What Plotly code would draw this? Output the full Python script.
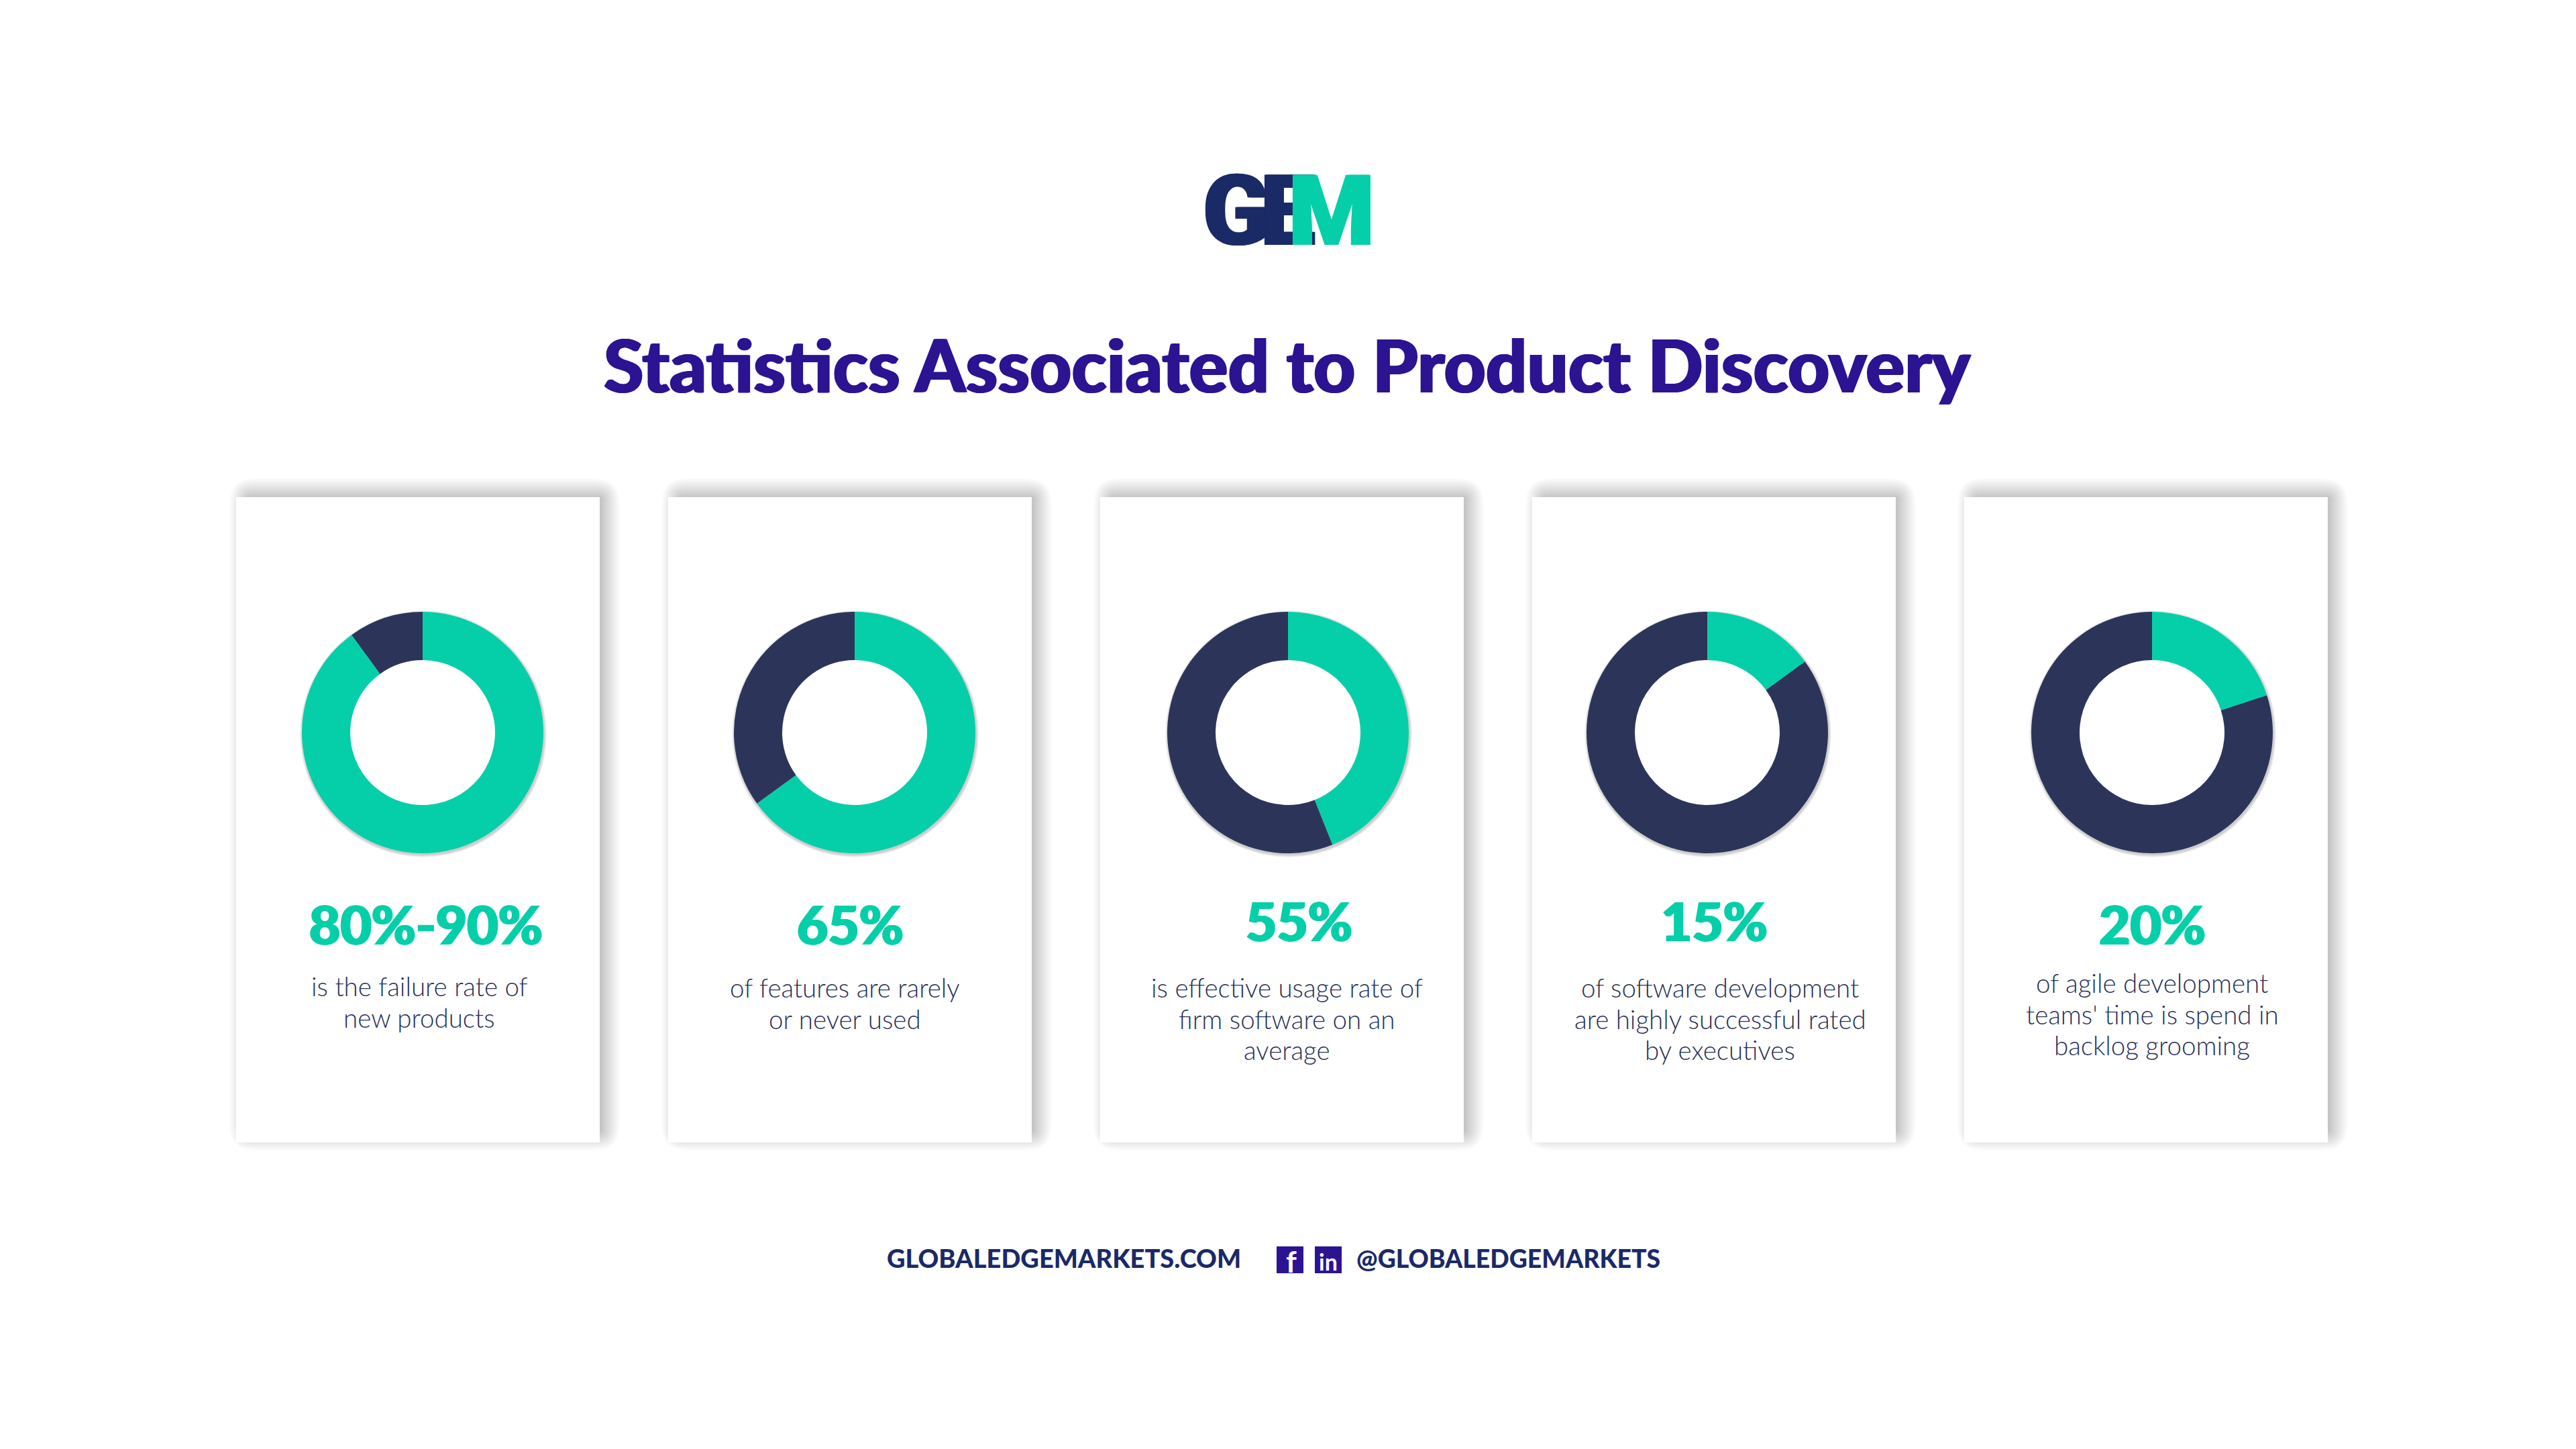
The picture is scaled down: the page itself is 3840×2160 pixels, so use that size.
import plotly.graph_objects as go

W, H = 3840, 2160
TEAL, NAVY, INK, PURPLE, LOGO = "#05cfa9", "#2c3559", "#262f55", "#2b1392", "#1a2a66"
FONT = "Lato"

# data
teal_values = [90, 65, 44, 15, 20]
navy_values = [10, 35, 56, 85, 80]
headlines = ["80%-90%", "65%", "55%", "15%", "20%"]
descriptions = [
    ["is the failure rate of", "new products"],
    ["of features are rarely", "or never used"],
    ["is effective usage rate of", "firm software on an", "average"],
    ["of software development", "are highly successful rated", "by executives"],
    ["of agile development", "teams' time is spend in", "backlog grooming"],
]
title = "Statistics Associated to Product Discovery"
footer_site = "GLOBALEDGEMARKETS.COM"
footer_handle = "@GLOBALEDGEMARKETS"

# layout (pixels)
card_left = [352, 996, 1640, 2284, 2928]
card_w, card_top, card_bottom = 542, 741, 1703
donut_cx = [630, 1274, 1920, 2545, 3208]
donut_cy, donut_r = 1092, 180
head_xy = [(635, 1377), (1267, 1377), (1936, 1372), (2555, 1372), (3208, 1377)]
desc_x = [625, 1259, 1918, 2564, 3208]
desc_y0 = [1470, 1472, 1472, 1472, 1465]
desc_step = 46.5

px = lambda x: x / W
py = lambda y: 1 - y / H
shapes = []


def rect(x0, y0, x1, y1, **kw):
    shapes.append(dict(type="rect", xref="paper", yref="paper", x0=px(x0), x1=px(x1),
                       y0=py(y1), y1=py(y0), layer="below", line_width=0, **kw))


def round_rect(x0, y0, x1, y1, rad, **kw):
    a, b, c, d = px(x0), px(x1), py(y0), py(y1)
    rx, ry = px(rad), rad / H
    path = (f"M{a + rx},{c} L{b - rx},{c} Q{b},{c} {b},{c - ry} L{b},{d + ry} Q{b},{d} {b - rx},{d} "
            f"L{a + rx},{d} Q{a},{d} {a},{d + ry} L{a},{c - ry} Q{a},{c} {a + rx},{c} Z")
    shapes.append(dict(type="path", xref="paper", yref="paper", path=path, layer="below",
                       line_width=0, **kw))


for left in card_left:
    for r in range(-10, 21):
        round_rect(left + 10 - r, card_top - 8 - r, left + card_w + 10 + r, card_bottom - 8 + r,
                   (r + 10) * 1.2, fillcolor="#000000", opacity=0.0095)
    rect(left, card_top, left + card_w, card_bottom, fillcolor="#ffffff")

for cx in donut_cx:
    for r in range(1, 5):
        shapes.append(dict(type="circle", xref="paper", yref="paper", layer="below", line_width=0,
                           x0=px(cx + 1 - donut_r - r), x1=px(cx + 1 + donut_r + r),
                           y0=py(donut_cy + 2 + donut_r + r), y1=py(donut_cy + 2 - donut_r - r),
                           fillcolor="#000000", opacity=0.05))
    hole = donut_r * 0.8
    shapes.append(dict(type="circle", xref="paper", yref="paper", layer="below", line_width=0,
                       x0=px(cx - hole), x1=px(cx + hole), y0=py(donut_cy + hole),
                       y1=py(donut_cy - hole), fillcolor="#ffffff"))

rect(1903, 1858, 1943, 1898, fillcolor=PURPLE)
rect(1960, 1858, 2000, 1898, fillcolor=PURPLE)

fig = go.Figure()
for teal, navy, cx in zip(teal_values, navy_values, donut_cx):
    fig.add_trace(go.Pie(
        values=[teal, navy], sort=False, direction="clockwise", rotation=0, hole=0.6,
        marker=dict(colors=[TEAL, NAVY], line_width=0), textinfo="none", hoverinfo="skip",
        showlegend=False,
        domain=dict(x=[px(cx - donut_r), px(cx + donut_r)],
                    y=[py(donut_cy + donut_r), py(donut_cy - donut_r)]),
    ))

anns = []


def text(s, x, y, size, color, weight=400, family=FONT, shadow=None):
    font = dict(family=family, size=size, color=color, weight=weight)
    if shadow:
        font["shadow"] = shadow
    anns.append(dict(text=s, x=px(x), y=py(y), xref="paper", yref="paper", showarrow=False,
                     xanchor="center", yanchor="middle", align="center", font=font))


heavy = "1.5px 0 0 {0}, -1.5px 0 0 {0}"
text(title, 1919, 543, 108, PURPLE, 900, shadow=heavy.format(PURPLE))
for s, (x, y) in zip(headlines, head_xy):
    text(s, x, y, 80, TEAL, 900, shadow=heavy.format(TEAL))
for lines, x, y0 in zip(descriptions, desc_x, desc_y0):
    for i, line in enumerate(lines):
        text(line, x, y0 + i * desc_step, 38.5, INK, 300)
text(footer_site, 1586, 1875, 38, LOGO, 900)
text(footer_handle, 2248, 1875, 37.4, LOGO, 900)
text("f", 1925, 1880, 44, "#ffffff", 700)
text("in", 1980, 1880, 34, "#ffffff", 700)

LOGO_FONT = "Roboto"
thick = "2px 0 0 {0}, -2px 0 0 {0}"
text("G", 1843, 315, 146, LOGO, 900, LOGO_FONT, thick.format(LOGO))
text("E", 1920, 315, 146, LOGO, 900, LOGO_FONT, thick.format(LOGO))
text("M", 1985, 315, 146, TEAL, 900, LOGO_FONT, thick.format(TEAL))

fig.update_layout(width=W, height=H, margin=dict(l=0, r=0, t=0, b=0), paper_bgcolor="#ffffff",
                  plot_bgcolor="#ffffff", shapes=shapes, annotations=anns)
fig.write_html("out.html", config=dict(displayModeBar=False),
               post_script="document.body.style.margin='0';")
